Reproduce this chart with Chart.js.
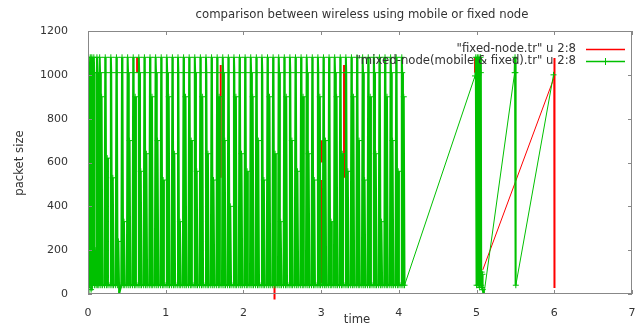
<!DOCTYPE html>
<html>
<head>
<meta charset="utf-8">
<script src="https://cdn.jsdelivr.net/npm/chart.js@4.4.1/dist/chart.umd.min.js"></script>
<style>
  html, body { margin: 0; padding: 0; background: #fff; }
  canvas { display: block; }
</style>
</head>
<body>
<canvas id="grfc" width="641" height="327"></canvas>
<script>
/* ===================== DATA ===================== */
const titulo = 'comparison between wireless using mobile or fixed node';
const xLabel = 'time';
const yLabel = 'packet size';
const legendFixed = '"fixed-node.tr" u 2:8';
const legendMixed = '"mixed-node(mobile & fixed).tr" u 2:8';

const xTicks = [0, 1, 2, 3, 4, 5, 6, 7];
const yTicks = [0, 200, 400, 600, 800, 1000, 1200];

// mixed-node: time (column 2)
const mixedTime = [
  0.000, 0.003, 0.006, 0.010, 0.015, 0.020, 0.030, 0.035, 0.040, 0.050,
  0.055, 0.060, 0.075, 0.080, 0.085, 0.100, 0.105, 0.115, 0.120, 0.125,
  0.140, 0.150, 0.155, 0.165, 0.175, 0.185,
  0.212, 0.222, 0.227, 0.237, 0.247, 0.257,
  0.284, 0.294, 0.299, 0.309, 0.319, 0.329,
  0.356, 0.366, 0.371, 0.381, 0.391, 0.401,
  0.428, 0.438, 0.443, 0.453, 0.463, 0.473,
  0.500, 0.510, 0.515, 0.525, 0.535, 0.545,
  0.572, 0.582, 0.587, 0.597, 0.607, 0.617,
  0.644, 0.654, 0.659, 0.669, 0.679, 0.689,
  0.716, 0.726, 0.731, 0.741, 0.751, 0.761,
  0.788, 0.798, 0.803, 0.813, 0.823, 0.833,
  0.860, 0.870, 0.875, 0.885, 0.895, 0.905,
  0.932, 0.942, 0.947, 0.957, 0.967, 0.977,
  1.004, 1.014, 1.019, 1.029, 1.039, 1.049,
  1.076, 1.086, 1.091, 1.101, 1.111, 1.121,
  1.148, 1.158, 1.163, 1.173, 1.183, 1.193,
  1.220, 1.230, 1.235, 1.245, 1.255, 1.265,
  1.292, 1.302, 1.307, 1.317, 1.327, 1.337,
  1.364, 1.374, 1.379, 1.389, 1.399, 1.409,
  1.436, 1.446, 1.451, 1.461, 1.471, 1.481,
  1.508, 1.518, 1.523, 1.533, 1.543, 1.553,
  1.580, 1.590, 1.595, 1.605, 1.615, 1.625,
  1.652, 1.662, 1.667, 1.677, 1.687, 1.697,
  1.724, 1.734, 1.739, 1.749, 1.759, 1.769,
  1.796, 1.806, 1.811, 1.821, 1.831, 1.841,
  1.868, 1.878, 1.883, 1.893, 1.903, 1.913,
  1.940, 1.950, 1.955, 1.965, 1.975, 1.985,
  2.012, 2.022, 2.027, 2.037, 2.047, 2.057,
  2.084, 2.094, 2.099, 2.109, 2.119, 2.129,
  2.156, 2.166, 2.171, 2.181, 2.191, 2.201,
  2.228, 2.238, 2.243, 2.253, 2.263, 2.273,
  2.300, 2.310, 2.315, 2.325, 2.335, 2.345,
  2.372, 2.382, 2.387, 2.397, 2.407, 2.417,
  2.444, 2.454, 2.459, 2.469, 2.479, 2.489,
  2.516, 2.526, 2.531, 2.541, 2.551, 2.561,
  2.588, 2.598, 2.603, 2.613, 2.623, 2.633,
  2.660, 2.670, 2.675, 2.685, 2.695, 2.705,
  2.732, 2.742, 2.747, 2.757, 2.767, 2.777,
  2.804, 2.814, 2.819, 2.829, 2.839, 2.849,
  2.876, 2.886, 2.891, 2.901, 2.911, 2.921,
  2.948, 2.958, 2.963, 2.973, 2.983, 2.993,
  3.020, 3.030, 3.035, 3.045, 3.055, 3.065,
  3.092, 3.102, 3.107, 3.117, 3.127, 3.137,
  3.164, 3.174, 3.179, 3.189, 3.199, 3.209,
  3.236, 3.246, 3.251, 3.261, 3.271, 3.281,
  3.308, 3.318, 3.323, 3.333, 3.343, 3.353,
  3.380, 3.390, 3.395, 3.405, 3.415, 3.425,
  3.452, 3.462, 3.467, 3.477, 3.487, 3.497,
  3.524, 3.534, 3.539, 3.549, 3.559, 3.569,
  3.596, 3.606, 3.611, 3.621, 3.631, 3.641,
  3.668, 3.678, 3.683, 3.693, 3.703, 3.713,
  3.740, 3.750, 3.755, 3.765, 3.775, 3.785,
  3.812, 3.822, 3.827, 3.837, 3.847, 3.857,
  3.884, 3.894, 3.899, 3.909, 3.919, 3.929,
  3.956, 3.966, 3.971, 3.981, 3.991, 4.001,
  4.028, 4.038, 4.043, 4.053, 4.063, 4.073,
  4.980, 4.990, 5.000, 5.010, 5.015, 5.020, 5.030, 5.040, 5.050, 5.055,
  5.060, 5.065, 5.070, 5.075, 5.080, 5.095, 5.490, 5.495, 5.500, 5.505,
  5.990
];

// mixed-node: packet size (column 8)
const mixedSize = [
  40, 110, 30, 1080, 1010, 40, 80, 1080, 20, 1080,
  1010, 40, 1080, 1010, 40, 200, 40, 1080, 1010, 40,
  40, 1080, 1010, 40, 900, 40,
  40, 1080, 1010, 40, 620, 40,
  40, 1080, 1010, 40, 530, 40,
  40, 1080, 1010, 40, 240, 0,
  40, 1080, 1010, 40, 330, 40,
  40, 1080, 1010, 40, 700, 40,
  40, 1080, 1010, 40, 900, 40,
  40, 1080, 1010, 40, 560, 40,
  40, 1080, 1010, 40, 640, 40,
  40, 1080, 1010, 40, 900, 40,
  40, 1080, 1010, 40, 700, 40,
  40, 1080, 1010, 40, 520, 40,
  40, 1080, 1010, 40, 900, 40,
  40, 1080, 1010, 40, 640, 40,
  40, 1080, 1010, 40, 330, 40,
  40, 1080, 1010, 40, 900, 40,
  40, 1080, 1010, 40, 700, 40,
  40, 1080, 1010, 40, 560, 40,
  40, 1080, 1010, 40, 900, 40,
  40, 1080, 1010, 40, 640, 40,
  40, 1080, 1010, 40, 520, 40,
  40, 1080, 1010, 40, 900, 40,
  40, 1080, 1010, 40, 700, 40,
  40, 1080, 1010, 40, 400, 40,
  40, 1080, 1010, 40, 900, 40,
  40, 1080, 1010, 40, 640, 40,
  40, 1080, 1010, 40, 560, 40,
  40, 1080, 1010, 40, 900, 40,
  40, 1080, 1010, 40, 700, 40,
  40, 1080, 1010, 40, 520, 40,
  40, 1080, 1010, 40, 900, 40,
  40, 1080, 1010, 40, 640, 40,
  40, 1080, 1010, 40, 330, 40,
  40, 1080, 1010, 40, 900, 40,
  40, 1080, 1010, 40, 700, 40,
  40, 1080, 1010, 40, 560, 40,
  40, 1080, 1010, 40, 900, 40,
  40, 1080, 1010, 40, 640, 40,
  40, 1080, 1010, 40, 520, 40,
  40, 1080, 1010, 40, 900, 40,
  40, 1080, 1010, 40, 700, 40,
  40, 1080, 1010, 40, 330, 40,
  40, 1080, 1010, 40, 900, 40,
  40, 1080, 1010, 40, 640, 40,
  40, 1080, 1010, 40, 560, 40,
  40, 1080, 1010, 40, 900, 40,
  40, 1080, 1010, 40, 700, 40,
  40, 1080, 1010, 40, 520, 40,
  40, 1080, 1010, 40, 900, 40,
  40, 1080, 1010, 40, 640, 40,
  40, 1080, 1010, 40, 330, 40,
  40, 1080, 1010, 40, 900, 40,
  40, 1080, 1010, 40, 700, 40,
  40, 1080, 1010, 40, 560, 40,
  40, 1080, 1010, 40, 900, 40,
  995, 1080, 40, 1080, 1010, 40, 1080, 30, 1080, 1010,
  40, 100, 30, 90, 20, 0, 1010, 1080, 1010, 40,
  1000
];

// fixed-node (only the parts that are not covered by the green trace)
const fixedTime = [
  0.030, 0.035, 0.045, 0.050, 0.060, 0.070, 0.075, 0.075,
  0.632, 0.632, 0.632,
  1.708, 1.708, 1.708,
  2.400, 2.400, 2.400,
  2.998, 2.998, 2.998, 2.998, 2.998, 2.998,
  3.008, 3.008, 3.008,
  3.295, 3.295, 3.295,
  4.980, 4.980, 4.980,
  5.080, 6.000, 6.000, 6.005
];
const fixedSize = [
  40, 1080, 40, 1080, 40, 1060, 40, null,
  1080, 1010, null,
  1045, 530, null,
  40, -25, null,
  700, 640, null, 520, 50, null,
  700, 600, null,
  1045, 530, null,
  1080, 1010, null,
  110, 990, 1077, 27
];

/* ===================== CHART ===================== */
const FONT = 'DejaVu Sans';
const TXT = '#333';
const FRAME = '#888';
const VERMELHO = '#ff0000';
const VERDE = '#00c000';

const pontos = (xs, ys) => xs.map((x, i) => ({ x: x, y: ys[i] }));

// traços quase verticais ficam grossos, as diagonais longas ficam finas
const larguraSegmento = ctx => Math.abs(ctx.p1.x - ctx.p0.x) > 6 ? 1 : 2;

const gnuplotLook = {
  id: 'gnuplotLook',
  afterDraw(chart) {
    const c = chart.ctx, a = chart.chartArea;
    const sx = chart.scales.x, sy = chart.scales.y;
    c.save();
    // moldura
    c.strokeStyle = FRAME;
    c.lineWidth = 1;
    c.strokeRect(a.left + 0.5, a.top + 0.5, a.right - a.left - 1, a.bottom - a.top - 1);
    // ticks para dentro
    c.beginPath();
    xTicks.forEach(v => {
      const px = Math.round(sx.getPixelForValue(v)) + 0.5;
      c.moveTo(px, a.bottom); c.lineTo(px, a.bottom - 4);
      c.moveTo(px, a.top); c.lineTo(px, a.top + 4);
    });
    yTicks.forEach(v => {
      const py = Math.round(sy.getPixelForValue(v)) + 0.5;
      c.moveTo(a.left, py); c.lineTo(a.left + 4, py);
      c.moveTo(a.right, py); c.lineTo(a.right - 4, py);
    });
    c.stroke();
    // textos
    c.fillStyle = TXT;
    c.font = '11.7px "' + FONT + '"';
    c.textBaseline = 'middle';
    c.textAlign = 'center';
    c.fillText(titulo, 362, 15);
    c.fillText(xLabel, 357, 320);
    c.save();
    c.translate(20, 163);
    c.rotate(-Math.PI / 2);
    c.fillText(yLabel, 0, 0);
    c.restore();
    // legenda
    c.textAlign = 'right';
    c.fillText(legendFixed, 576, 49);
    c.fillText(legendMixed, 576, 61);
    c.lineWidth = 1.5;
    c.strokeStyle = VERMELHO;
    c.beginPath(); c.moveTo(586, 49.5); c.lineTo(625, 49.5); c.stroke();
    c.strokeStyle = VERDE;
    c.beginPath(); c.moveTo(586, 61.5); c.lineTo(625, 61.5); c.stroke();
    c.lineWidth = 1;
    c.beginPath(); c.moveTo(605.5, 58); c.lineTo(605.5, 65); c.stroke();
    c.restore();
  }
};

new Chart(document.getElementById('grfc'), {
  type: 'scatter',
  data: {
    datasets: [{
      label: legendFixed,
      data: pontos(fixedTime, fixedSize),
      showLine: true,
      spanGaps: false,
      borderColor: VERMELHO,
      borderWidth: 2,
      segment: { borderWidth: larguraSegmento },
      pointRadius: 0,
      order: 2,
      clip: { left: 2, top: 2, right: 2, bottom: 8 }
    }, {
      label: legendMixed,
      data: pontos(mixedTime, mixedSize),
      showLine: true,
      borderColor: VERDE,
      borderWidth: 2,
      segment: { borderWidth: larguraSegmento },
      pointStyle: 'cross',
      pointRadius: 3,
      pointBorderWidth: 1,
      pointBorderColor: VERDE,
      pointBackgroundColor: VERDE,
      order: 1
    }]
  },
  options: {
    responsive: false,
    devicePixelRatio: 1,
    animation: false,
    layout: { padding: { left: 0, right: 9, top: 31, bottom: 0 } },
    plugins: {
      legend: { display: false },
      title: { display: false },
      tooltip: { enabled: false }
    },
    scales: {
      x: {
        type: 'linear',
        min: 0, max: 7,
        afterFit: s => { s.height = 33; },
        afterBuildTicks: s => { s.ticks = xTicks.map(v => ({ value: v })); },
        grid: { display: false },
        border: { display: false },
        ticks: { color: TXT, padding: 5, font: { family: FONT, size: 11 }, callback: v => String(v) }
      },
      y: {
        type: 'linear',
        min: 0, max: 1200,
        afterFit: s => { s.width = 88; },
        afterBuildTicks: s => { s.ticks = yTicks.map(v => ({ value: v })); },
        grid: { display: false },
        border: { display: false },
        ticks: { color: TXT, padding: 12, font: { family: FONT, size: 11 }, callback: v => String(v) }
      }
    }
  },
  plugins: [gnuplotLook]
});
</script>
</body>
</html>
